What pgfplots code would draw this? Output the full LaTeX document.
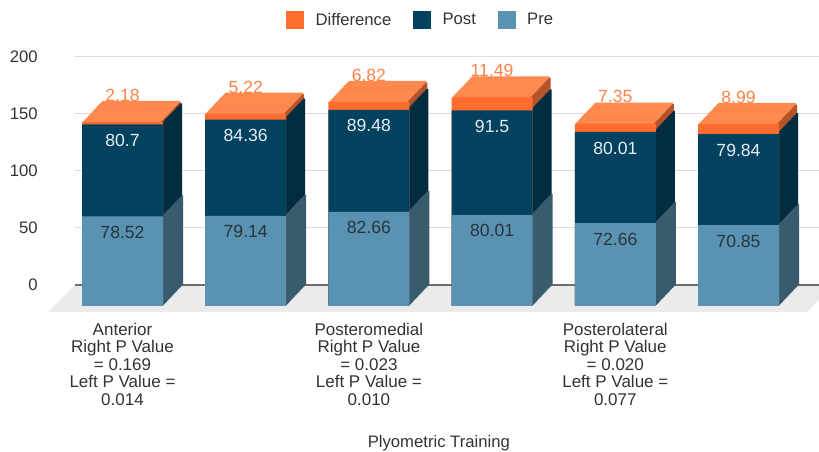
\documentclass[border=0pt]{standalone}
\usepackage{fontspec}
\setmainfont{Liberation Sans}
\usepackage{pgfplots}
\usepackage{pgfplotstable}
\pgfplotsset{compat=1.18}
\definecolor{prec}{HTML}{5A93B1}
\definecolor{postc}{HTML}{02425F}
\definecolor{diffc}{HTML}{FF6D2E}
\definecolor{topc}{HTML}{FF8A50}
\definecolor{preside}{HTML}{385B6D}
\definecolor{postside}{HTML}{022D41}
\definecolor{diffside}{HTML}{B5532A}
\definecolor{floorc}{HTML}{EBEBEB}
\definecolor{gridc}{HTML}{DCDCDC}
\definecolor{zeroc}{HTML}{6E6E6E}
\definecolor{txt}{HTML}{333333}
\definecolor{difflab}{HTML}{FF8248}
\definecolor{prelab}{HTML}{26343D}
\definecolor{postlab}{HTML}{E6EEF3}

\pgfplotstableread{
x pre post diff
0 78.52 80.7 2.18
1 79.14 84.36 5.22
2 82.66 89.48 6.82
3 80.01 91.5 11.49
4 72.66 80.01 7.35
5 70.85 79.84 8.99
}\data

\pgfplotsset{
  bx/.style={ybar, bar width=60.75pt, bar shift=0pt, draw=none, forget plot},
}
\tikzset{vlab/.style={font=\fontsize{13.2}{15}\selectfont}}

\begin{document}
\begin{tikzpicture}
\begin{axis}[
  scale only axis, width=558pt, height=171pt,
  xmin=-0.548, xmax=5.491, ymin=0, ymax=200,
  clip=false,
  axis line style={draw=none}, tick style={draw=none},
  ymajorgrids, grid style={gridc, line width=0.75pt},
  ytick={0,50,100,150,200},
  yticklabel style={font=\fontsize{12.5}{15}\selectfont, text=txt, xshift=-24.4pt},
  /pgf/number format/assume math mode=true,
  xtick={0,...,5},
  xticklabels={{Anterior\\Right P Value\\= 0.169\\Left P Value =\\0.014},{},{Posteromedial\\Right P Value\\= 0.023\\Left P Value =\\0.010},{},{Posterolateral\\Right P Value\\= 0.020\\Left P Value =\\0.077},{}},
  xticklabel style={align=center, font=\fontsize{12.75}{13.1}\selectfont, text=txt, xshift=-15pt, yshift=-25pt},
  xlabel={Plyometric Training},
  xlabel style={at={(rel axis cs:0.489,0)}, anchor=center, yshift=-118.5pt, font=\fontsize{12.5}{15}\selectfont, text=txt},
  legend columns=3,
  legend style={at={(0.465,1.162)}, anchor=center, draw=none, fill=none,
    font=\fontsize{12.5}{15}\selectfont, text=txt,
    /tikz/every even column/.append style={column sep=14.25pt}},
]
\addlegendimage{legend image code/.code={\fill[diffc] (0pt,-6.4pt) rectangle (12.8pt,6.4pt); \path (19.8pt,0pt);}}
\addlegendentry{Difference}
\addlegendimage{legend image code/.code={\fill[postc] (0pt,-6.4pt) rectangle (12.8pt,6.4pt); \path (19.8pt,0pt);}}
\addlegendentry{Post}
\addlegendimage{legend image code/.code={\fill[prec] (0pt,-6.4pt) rectangle (12.8pt,6.4pt); \path (19.8pt,0pt);}}
\addlegendentry{Pre}

\fill[floorc] (rel axis cs:0,0) -- ++(569.25pt,0pt) -- ++(-20.25pt,-20.25pt) -- ++(-569.25pt,0pt) -- cycle;
\draw[zeroc, line width=1pt] (rel axis cs:0,0) -- (rel axis cs:1,0);

% depth: copies of the bars from the back plane towards the front face
\pgfplotsinvokeforeach{0,...,19}{
  \addplot[bx, fill=topc, bar width=58.5pt, bar shift=-1.125pt, xshift={-0.75pt*#1}, yshift={-0.7875pt*#1}]
    table[x=x, y expr=\thisrow{pre}+\thisrow{post}+\thisrow{diff}] \data;
  \addplot[bx, fill=diffside, bar width=59.25pt, bar shift=-0.75pt, xshift={-0.75pt*#1}, yshift={-0.7875pt*#1}]
    table[x=x, y expr=\thisrow{pre}+\thisrow{post}+\thisrow{diff}-1.4] \data;
  \addplot[bx, fill=postside, bar width=60pt, bar shift=-0.375pt, xshift={-0.75pt*#1}, yshift={-0.7875pt*#1}]
    table[x=x, y expr=\thisrow{pre}+\thisrow{post}] \data;
  \addplot[bx, fill=preside, xshift={-0.75pt*#1}, yshift={-0.7875pt*#1}]
    table[x=x, y=pre] \data;
}

% front faces
\addplot[bx, fill=diffc, xshift=-15pt, yshift=-15.75pt,
  nodes near coords, point meta=explicit symbolic,
  every node near coord/.style={vlab, anchor=center, yshift=20pt, text=difflab}]
  table[x=x, y expr=\thisrow{pre}+\thisrow{post}+\thisrow{diff}, meta=diff] \data;
\addplot[bx, fill=postc, xshift=-15pt, yshift=-15.75pt,
  nodes near coords, point meta=explicit symbolic,
  every node near coord/.style={vlab, anchor=center, yshift=-12pt, text=postlab}]
  table[x=x, y expr=\thisrow{pre}+\thisrow{post}, meta=post] \data;
\addplot[bx, fill=prec, xshift=-15pt, yshift=-15.75pt,
  nodes near coords, point meta=explicit symbolic,
  every node near coord/.style={vlab, anchor=center, yshift=-12pt, text=prelab}]
  table[x=x, y=pre, meta=pre] \data;
\end{axis}
\pgfresetboundingbox
\path (current axis.south west) ++(-56.25pt,-125.25pt) rectangle ++(614.25pt,339pt);
\end{tikzpicture}
\end{document}
